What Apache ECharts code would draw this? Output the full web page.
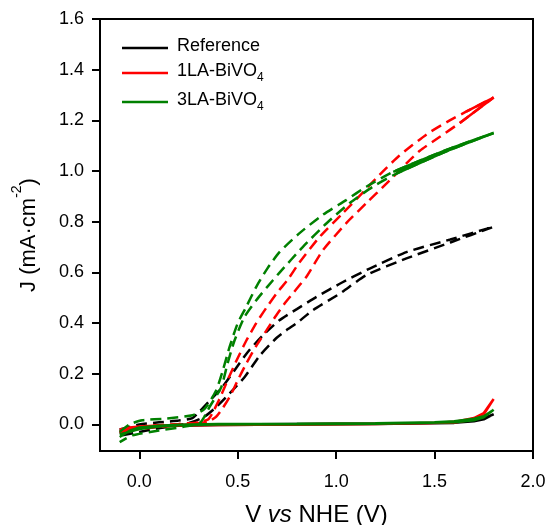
<!DOCTYPE html>
<html><head><meta charset="utf-8">
<script src="https://cdn.jsdelivr.net/npm/echarts@6/dist/echarts.min.js"></script>
<style>html,body{margin:0;padding:0;background:#fff}#c{width:547px;height:525px}</style>
</head><body><div id="c"></div>
<script>
// ---- data (V vs NHE, J in mA·cm^-2) ----
const xTicks = [0, 0.5, 1.0, 1.5, 2.0];
const yTicks = [0, 0.2, 0.4, 0.6, 0.8, 1.0, 1.2, 1.4, 1.6];
const seriesNames = ['Reference', '1LA-BiVO4', '3LA-BiVO4'];

// dark (solid) scans: forward then reverse
const refDark = [[-0.1,-0.035],[-0.05,-0.02],[0,-0.012],[0.1,-0.006],[0.2,-0.003],[0.4,0],[0.8,0.002],[1.2,0.004],[1.5,0.006],[1.6,0.009],[1.7,0.016],[1.75,0.024],[1.8,0.04],
  [1.75,0.02],[1.7,0.012],[1.6,0.006],[1.2,0.002],[0.8,0],[0.4,-0.002],[0.2,-0.005],[0.1,-0.008],[0,-0.014],[-0.1,-0.025]];
const la1Dark = [[-0.1,-0.02],[-0.05,-0.012],[0,-0.008],[0.1,-0.004],[0.2,-0.002],[0.4,0],[0.8,0.001],[1.2,0.003],[1.5,0.006],[1.6,0.01],[1.7,0.025],[1.75,0.045],[1.8,0.1],
  [1.75,0.04],[1.7,0.02],[1.6,0.007],[1.2,0.002],[0.8,0],[0.4,-0.002],[0.2,-0.004],[0.1,-0.007],[0,-0.012],[-0.1,-0.03]];
const la3Dark = [[-0.1,-0.05],[-0.05,-0.025],[0,-0.012],[0.1,-0.005],[0.2,-0.001],[0.4,0.002],[0.8,0.003],[1.2,0.005],[1.5,0.008],[1.6,0.012],[1.7,0.022],[1.75,0.032],[1.8,0.058],
  [1.75,0.028],[1.7,0.016],[1.6,0.008],[1.2,0.003],[0.8,0.001],[0.4,0],[0.2,-0.003],[0.1,-0.008],[0,-0.018],[-0.1,-0.04]];

// illuminated (dashed) scans: one branch then the other
const refLight = [[-0.1,-0.02],[0,0],[0.1,0.008],[0.2,0.015],[0.27,0.025],[0.305,0.05],[0.365,0.10],[0.42,0.146],[0.483,0.213],[0.55,0.285],[0.626,0.35],[0.71,0.41],[0.8,0.455],[0.9,0.503],[1.03,0.56],[1.17,0.615],[1.357,0.68],[1.58,0.73],[1.8,0.78],
  [1.58,0.718],[1.357,0.655],[1.153,0.589],[1.02,0.517],[0.88,0.45],[0.8,0.40],[0.746,0.371],[0.695,0.34],[0.61,0.27],[0.534,0.186],[0.458,0.122],[0.39,0.068],[0.33,0.03],[0.25,0.005],[0.1,-0.015],[0,-0.03],[-0.1,-0.045]];
const la1Light = [[-0.1,-0.03],[0,-0.01],[0.1,-0.003],[0.2,0.002],[0.3,0.008],[0.35,0.02],[0.37,0.043],[0.407,0.10],[0.448,0.174],[0.49,0.246],[0.543,0.33],[0.594,0.40],[0.645,0.46],[0.70,0.52],[0.753,0.57],[0.814,0.64],[0.916,0.74],[1.033,0.833],[1.135,0.915],[1.22,0.985],[1.32,1.06],[1.46,1.145],[1.577,1.2],[1.66,1.234],[1.8,1.29],
  [1.628,1.19],[1.527,1.135],[1.425,1.08],[1.357,1.03],[1.255,0.95],[1.153,0.873],[1.05,0.793],[0.932,0.687],[0.848,0.582],[0.746,0.485],[0.695,0.43],[0.645,0.37],[0.594,0.31],[0.543,0.24],[0.50,0.174],[0.46,0.11],[0.42,0.06],[0.39,0.03],[0.35,0.012],[0.25,0.0],[0.1,-0.01],[0,-0.018],[-0.1,-0.03]];
const la3Light = [[-0.1,-0.03],[-0.05,0.0],[0.015,0.016],[0.136,0.023],[0.27,0.036],[0.33,0.06],[0.39,0.134],[0.424,0.213],[0.458,0.305],[0.50,0.40],[0.543,0.464],[0.594,0.543],[0.65,0.615],[0.712,0.68],[0.814,0.755],[0.93,0.826],[1.05,0.885],[1.153,0.938],[1.29,0.997],[1.56,1.083],[1.8,1.15],
  [1.56,1.078],[1.306,0.99],[1.186,0.938],[1.068,0.873],[0.95,0.793],[0.83,0.70],[0.71,0.597],[0.65,0.543],[0.594,0.49],[0.534,0.424],[0.483,0.33],[0.448,0.24],[0.416,0.147],[0.356,0.068],[0.33,0.03],[0.305,0.004],[0.22,-0.01],[0.10,-0.024],[-0.035,-0.043],[-0.1,-0.07]];

const colors = ['#000000', '#ff0000', '#008000'];
const darkSets = [refDark, la1Dark, la3Dark];
const lightSets = [refLight, la1Light, la3Light];
// potential above which the noisy illuminated trace looks continuous
const tailFrom = [1.6, 1.62, 1.28];

const FONT = 'Arial, "Liberation Sans", sans-serif';
const chart = echarts.init(document.getElementById('c'), null, {renderer: 'canvas'});

const series = [];
for (let i = 0; i < 3; i++) {
  series.push({
    name: seriesNames[i], type: 'line', data: darkSets[i], symbol: 'none', smooth: false,
    lineStyle: {color: colors[i], width: 2.5, type: 'solid'}, itemStyle: {color: colors[i]},
    z: 2 + i
  });
}
for (let i = 0; i < 3; i++) {
  series.push({
    name: seriesNames[i] + ' light', type: 'line', data: lightSets[i], symbol: 'none', smooth: 0.2,
    lineStyle: {color: colors[i], width: 2.5, type: [11, 6]}, itemStyle: {color: colors[i]},
    z: 2 + i
  });
  series.push({
    name: seriesNames[i] + ' light tail', type: 'line', data: lightSets[i].filter(p => p[0] >= tailFrom[i]),
    symbol: 'none', smooth: 0.2,
    lineStyle: {color: colors[i], width: 2.5, type: 'solid'}, itemStyle: {color: colors[i]},
    z: 2 + i
  });
}

const axisCommon = {
  axisLine: {show: true, onZero: false, lineStyle: {color: '#000', width: 2}},
  axisTick: {show: true, inside: false, length: 8, lineStyle: {color: '#000', width: 2}},
  splitLine: {show: false}
};

chart.setOption({
  animation: false,
  backgroundColor: '#fff',
  grid: {left: 100, right: 14, top: 19, bottom: 74, containLabel: false, outerBoundsMode: 'none',
    show: true, borderColor: '#000', borderWidth: 2, backgroundColor: 'transparent'},
  legend: {
    data: seriesNames, orient: 'vertical', left: 117, top: 32, itemWidth: 46, itemHeight: 14, itemGap: 7,
    icon: 'path://M0,6 L46,6 L46,8.5 L0,8.5 Z',
    formatter: function (n) {
      if (n.endsWith('BiVO4')) return '{t|' + n.slice(0, -1) + '}{s|4}';
      return '{t|' + n + '}';
    },
    textStyle: {
      fontFamily: FONT, fontSize: 18, color: '#000', padding: [0, 0, 0, 4],
      rich: {
        t: {fontFamily: FONT, fontSize: 18, color: '#000', verticalAlign: 'top', lineHeight: 22},
        s: {fontFamily: FONT, fontSize: 12, color: '#000', verticalAlign: 'bottom', lineHeight: 4}
      }
    }
  },
  xAxis: Object.assign({}, axisCommon, {
    type: 'value', min: -0.2, max: 2.0,
    axisTick: Object.assign({}, axisCommon.axisTick, {customValues: xTicks}),
    axisLabel: {customValues: xTicks, formatter: v => v.toFixed(1), fontFamily: FONT, fontSize: 18, color: '#000', margin: 22},
    name: '{t|V }{i|vs}{t| NHE (V)}', nameLocation: 'middle', nameGap: 52,
    nameTextStyle: {fontFamily: FONT, fontSize: 24, color: '#000',
      rich: {t: {fontFamily: FONT, fontSize: 24, color: '#000'}, i: {fontFamily: FONT, fontSize: 24, fontStyle: 'italic', color: '#000'}}}
  }),
  yAxis: Object.assign({}, axisCommon, {
    type: 'value', min: -0.105, max: 1.6,
    axisTick: Object.assign({}, axisCommon.axisTick, {customValues: yTicks}),
    axisLabel: {customValues: yTicks, formatter: v => v.toFixed(1), fontFamily: FONT, fontSize: 18, color: '#000', margin: 16},
    name: '{t|J (mA·cm}{s|-2}{t|)}', nameLocation: 'middle', nameGap: 60, nameRotate: 90,
    nameTextStyle: {fontFamily: FONT, fontSize: 22, color: '#000',
      rich: {t: {fontFamily: FONT, fontSize: 22, color: '#000', verticalAlign: 'bottom', lineHeight: 30},
             s: {fontFamily: FONT, fontSize: 14, color: '#000', verticalAlign: 'top', lineHeight: 30}}}
  }),
  series: series
});
</script></body></html>
